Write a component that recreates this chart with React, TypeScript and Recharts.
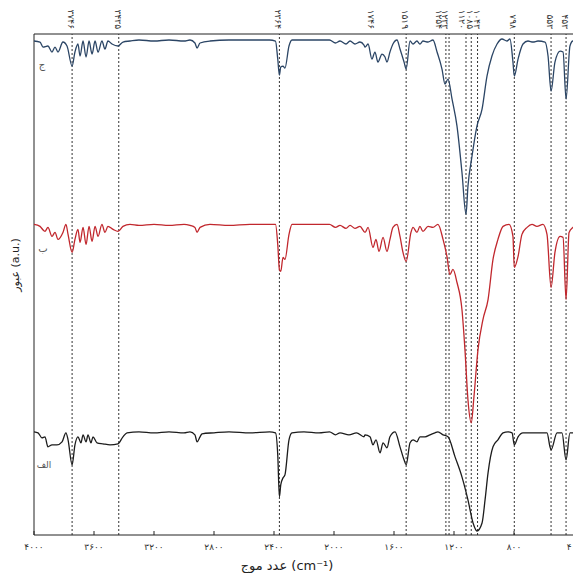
import React from 'react';
import { LineChart, Line, XAxis, YAxis, ReferenceLine } from 'recharts';

// wavenumber (cm-1), transmittance (a.u., stacked with offsets)
const spectrumC: [number, number][] = [
  [4000, 98.6], [3960, 98.4], [3940, 97.4], [3907, 97.6], [3880, 96.4], [3860, 97.4],
  [3840, 96.4], [3807, 98.4], [3780, 97.6], [3746, 93.6], [3727, 96.4], [3707, 98],
  [3693, 95.6], [3673, 98.6], [3653, 95.4], [3633, 98.6], [3613, 96], [3593, 98.6],
  [3573, 96.4], [3547, 98.6], [3527, 97], [3507, 98.6], [3480, 98], [3440, 97.6],
  [3407, 98.4], [3360, 98.6], [3300, 98.8], [3200, 98.6], [3100, 98.8], [3000, 98.6],
  [2960, 98.8], [2927, 98.2], [2913, 97.2], [2893, 98.2], [2827, 98.6], [2700, 98.8],
  [2560, 98.8], [2430, 98.8], [2390, 98.6], [2375, 95], [2364, 91.8], [2355, 93.4],
  [2340, 93.6], [2327, 93.2], [2300, 97.6], [2280, 98.8], [2200, 98.8], [2100, 98.8],
  [2030, 98.8], [1990, 98.2], [1960, 98.6], [1920, 98], [1893, 98.6], [1860, 98],
  [1827, 98.4], [1800, 97.8], [1793, 97.4], [1773, 98], [1747, 95], [1727, 96.4],
  [1707, 94.4], [1680, 96], [1660, 95.4], [1647, 94.4], [1627, 96.4], [1607, 98],
  [1580, 98.8], [1560, 97], [1533, 94.4], [1519, 93], [1493, 98.6], [1473, 98],
  [1447, 98.6], [1427, 98], [1407, 98.6], [1373, 98.4], [1340, 98.8], [1313, 96.4],
  [1280, 93], [1260, 90], [1240, 91], [1213, 87], [1180, 81.6], [1147, 72.4],
  [1120, 64], [1107, 69.6], [1080, 75.6], [1047, 81.6], [1013, 85], [980, 91.6],
  [947, 95.6], [913, 98], [880, 99], [847, 98.6], [827, 99], [807, 94.4], [798, 91.6],
  [773, 95], [740, 98], [707, 98.6], [673, 98.4], [640, 98.6], [593, 98.4], [573, 95.6],
  [553, 88.6], [527, 94.4], [493, 96.6], [473, 96.4], [453, 87], [427, 97.6], [407, 98.6],
  [400, 98.6],
];

const spectrumB: [number, number][] = [
  [4000, 62], [3960, 61.6], [3927, 60.6], [3907, 61.4], [3880, 59.6], [3860, 60.4],
  [3840, 59], [3807, 60.4], [3787, 62], [3773, 60], [3746, 56.4], [3727, 59], [3707, 61],
  [3693, 58.4], [3673, 61.4], [3653, 58], [3633, 61.6], [3613, 58.6], [3593, 61.6],
  [3573, 59.6], [3547, 62], [3527, 60.4], [3507, 61.6], [3473, 61], [3440, 60.6],
  [3407, 61.6], [3360, 62], [3300, 61.8], [3200, 62], [3100, 61.8], [3000, 62],
  [2960, 61.8], [2927, 61.4], [2913, 60.4], [2893, 61.4], [2827, 62], [2700, 61.8],
  [2560, 62], [2430, 62], [2390, 62], [2375, 58], [2364, 53], [2355, 52.6], [2340, 55.4],
  [2327, 55], [2300, 60], [2280, 62], [2200, 62], [2100, 62], [2030, 62], [1990, 61.4],
  [1960, 61.8], [1920, 61.2], [1893, 61.8], [1860, 61.2], [1827, 61.6], [1793, 60.4],
  [1773, 61.4], [1740, 57.4], [1720, 59], [1700, 56.6], [1673, 59.4], [1647, 56.6],
  [1627, 59], [1607, 61.4], [1580, 62], [1560, 59.6], [1540, 56.4], [1519, 54.6],
  [1487, 60.4], [1473, 61.4], [1447, 60.4], [1427, 61.6], [1407, 60.6], [1373, 61.6],
  [1340, 61.4], [1307, 62], [1273, 59], [1247, 55.6], [1227, 52], [1207, 53],
  [1180, 50.4], [1147, 45], [1127, 37], [1107, 27], [1085, 22.4], [1067, 27.6],
  [1040, 37], [1007, 43], [973, 47], [940, 55], [907, 59], [873, 61.6], [833, 62],
  [807, 59.6], [798, 53.4], [773, 55.6], [747, 60], [713, 61.4], [680, 62], [647, 61.6],
  [607, 62], [580, 60], [553, 49.4], [527, 56.4], [493, 59.6], [473, 59.4], [453, 47],
  [433, 60.4], [407, 61.4], [400, 61.6],
];

const spectrumA: [number, number][] = [
  [4000, 20.6], [3973, 20.4], [3947, 19.4], [3927, 19.6], [3907, 17.6], [3880, 18],
  [3847, 18], [3813, 18.6], [3787, 20.4], [3773, 19], [3746, 14], [3727, 18],
  [3707, 19.6], [3687, 18.4], [3673, 20], [3653, 18.6], [3640, 20], [3620, 18.4],
  [3607, 19.6], [3580, 18.4], [3540, 18.2], [3493, 18], [3440, 18.2], [3407, 19.6],
  [3380, 20.4], [3300, 20.6], [3200, 20.4], [3100, 20.6], [3000, 20.4], [2960, 20.6],
  [2927, 20], [2913, 18.6], [2893, 19.6], [2880, 20.2], [2800, 20.4], [2700, 20.6],
  [2560, 20.4], [2430, 20.6], [2390, 20.4], [2375, 16], [2364, 7.6], [2355, 10],
  [2340, 11.4], [2327, 12], [2300, 19], [2280, 20.4], [2200, 20.6], [2100, 20.4],
  [2030, 20.6], [1990, 20], [1960, 20.4], [1900, 20], [1850, 20.4], [1800, 19.6],
  [1793, 20], [1760, 19.6], [1740, 18], [1720, 19], [1693, 16.4], [1673, 18.4],
  [1647, 17.4], [1627, 19.6], [1593, 20.6], [1560, 17.6], [1533, 15], [1519, 14],
  [1493, 18.4], [1473, 19], [1447, 18.6], [1427, 19.6], [1393, 19.6], [1360, 20],
  [1327, 20.4], [1307, 20.6], [1273, 20], [1240, 19.6], [1193, 15.6], [1147, 11.6],
  [1107, 7], [1073, 2.4], [1047, 0.8], [1013, 2.4], [993, 7], [973, 12.4], [940, 17.6],
  [907, 19], [873, 20.4], [840, 20.6], [813, 20.4], [798, 18], [773, 19.6], [740, 20.4],
  [673, 20.4], [580, 20.4], [560, 17.6], [553, 17], [513, 20.4], [480, 20.4], [453, 15],
  [427, 20.4], [400, 20.4],
];

const bottomTicks = [4000, 3600, 3200, 2800, 2400, 2000, 1600, 1200, 800, 400];
// peaks marked with a dashed guide; 1746 is labelled only
const peakLines = [3746, 3435, 2364, 1519, 1254, 1233, 1120, 1085, 1043, 798, 553, 453];
const labelOnly = [1746];

// crowded labels around 1200 cm-1 are nudged apart
const labelNudge: Record<number, number> = { 1254: -6, 1233: -3, 1120: -3 };

const toFa = (n: number) => String(n).replace(/\d/g, (d) => '۰۱۲۳۴۵۶۷۸۹'[+d]);
const toRows = (pts: [number, number][]) => pts.map(([wn, t]) => ({ wn, t }));

const FONT = '"DejaVu Sans", sans-serif';

const BottomTick = (props: any) => {
  const { x, payload } = props;
  return (
    <g>
      <line x1={x} x2={x} y1={535} y2={531} stroke="#222" />
      <text x={x} y={550} textAnchor="middle" fontSize={9} fill="#333" fontFamily={FONT}>
        {toFa(payload.value)}
      </text>
    </g>
  );
};

// rotated wavenumber above the frame
const peakLabel = (value: number) => (props: any) => {
  const x = (props.viewBox?.x ?? 0) - 4 + (labelNudge[value] ?? 0);
  return (
    <text
      x={0}
      y={0}
      transform={`translate(${x},29) rotate(90)`}
      textAnchor="end"
      fontSize={9}
      fill="#333"
      fontFamily={FONT}
    >
      {toFa(value)}
    </text>
  );
};

export default function App() {
  return (
    <div style={{ position: 'absolute', left: 0, top: 0, width: 573, height: 573, overflow: 'hidden', background: '#fff' }}>
      <LineChart width={640} height={573} margin={{ top: 34, right: 66, bottom: 8, left: 34 }}>
        <XAxis
          dataKey="wn"
          type="number"
          domain={[400, 4000]}
          reversed
          allowDataOverflow
          ticks={bottomTicks}
          tick={<BottomTick />}
          tickLine={false}
          tickSize={0}
          height={30}
          stroke="#222"
          interval={0}
        />
        <YAxis type="number" domain={[0, 100]} hide allowDataOverflow />
        <ReferenceLine x={4000} stroke="#222" strokeWidth={1} />
        <ReferenceLine y={100} stroke="#222" strokeWidth={1} />
        {peakLines.map((v) => (
          <ReferenceLine
            key={v}
            x={v}
            stroke="#333"
            strokeWidth={1}
            strokeDasharray="2 2"
            ifOverflow="visible"
            label={{ content: peakLabel(v) }}
          />
        ))}
        {labelOnly.map((v) => (
          <ReferenceLine key={v} x={v} stroke="none" ifOverflow="visible" label={{ content: peakLabel(v) }} />
        ))}
        <Line data={toRows(spectrumA)} dataKey="t" type="monotone" stroke="#1c1c1c" strokeWidth={1.3} dot={false} isAnimationActive={false} />
        <Line data={toRows(spectrumB)} dataKey="t" type="monotone" stroke="#c1272d" strokeWidth={1.3} dot={false} isAnimationActive={false} />
        <Line data={toRows(spectrumC)} dataKey="t" type="monotone" stroke="#2b4565" strokeWidth={1.3} dot={false} isAnimationActive={false} />
        <text x={42} y={68} fontSize={10} fill="#555" fontFamily={FONT} textAnchor="middle">ج</text>
        <text x={43} y={252} fontSize={10} fill="#555" fontFamily={FONT} textAnchor="middle">ب</text>
        <text x={44} y={468} fontSize={9} fill="#555" fontFamily={FONT} textAnchor="middle">الف</text>
        <text x={16} y={265} transform="rotate(-90 16 265)" fontSize={11} fill="#222" fontFamily={FONT} textAnchor="middle" dominantBaseline="middle">
          عبور (a.u.)
        </text>
        <text x={287} y={570} fontSize={13} fill="#222" fontFamily={FONT} textAnchor="middle">
          عدد موج (cm⁻¹)
        </text>
      </LineChart>
    </div>
  );
}
